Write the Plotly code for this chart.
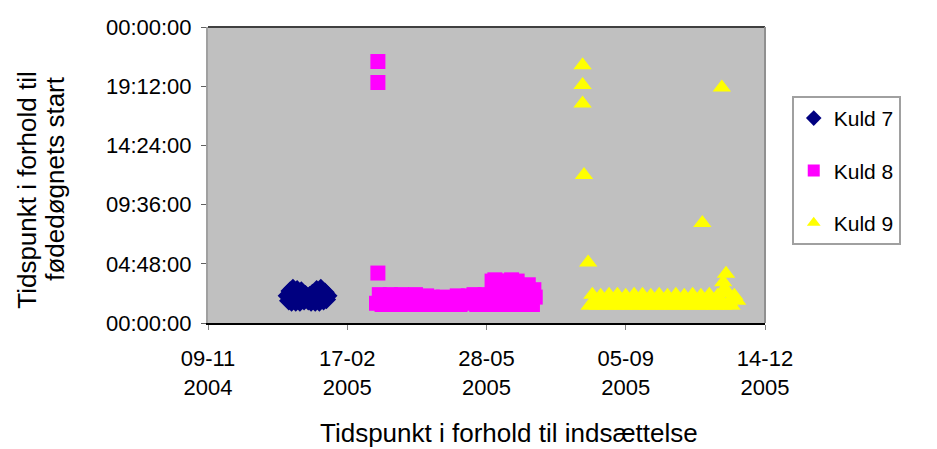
import plotly.graph_objects as go

# ---------------- data ----------------
x_tickvals = ["2004-11-09", "2005-02-17", "2005-05-28", "2005-09-05", "2005-12-14"]
x_ticktext = ["09-11<br>2004", "17-02<br>2005", "28-05<br>2005", "05-09<br>2005", "14-12<br>2005"]
y_tickvals = [0, 4.8, 9.6, 14.4, 19.2, 24]
y_ticktext = ["00:00:00", "04:48:00", "09:36:00", "14:24:00", "19:12:00", "00:00:00"]

# Kuld 7 (hours after start of the birth day)
dates7 = ["2005-01-05", "2005-01-06", "2005-01-07", "2005-01-08", "2005-01-09", "2005-01-10",
          "2005-01-11", "2005-01-12", "2005-01-13", "2005-01-14", "2005-01-15", "2005-01-16",
          "2005-01-17", "2005-01-18", "2005-01-19", "2005-01-20", "2005-01-21", "2005-01-22",
          "2005-01-23", "2005-01-24", "2005-01-25", "2005-01-26", "2005-01-27", "2005-01-28",
          "2005-01-29", "2005-01-30", "2005-01-31", "2005-02-01", "2005-02-02", "2005-02-03"]
hours7 = [2.2, 1.8, 2.6, 1.7, 2.8, 2.0, 1.7, 2.7, 2.3, 1.7, 2.6, 1.9,
          1.8, 2.3, 2.0, 1.8, 2.2, 1.7, 2.4, 2.0, 1.7, 2.7, 2.2, 1.7,
          2.8, 2.1, 1.8, 2.5, 1.9, 2.2]

# Kuld 8
dates8 = ["2005-03-11", "2005-03-11", "2005-03-11",
          "2005-03-10", "2005-03-12", "2005-03-14", "2005-03-16", "2005-03-18", "2005-03-20",
          "2005-03-22", "2005-03-24", "2005-03-26", "2005-03-28", "2005-03-30",
          "2005-04-01", "2005-04-03", "2005-04-05", "2005-04-07", "2005-04-09", "2005-04-11",
          "2005-04-13", "2005-04-15", "2005-04-17", "2005-04-19", "2005-04-21", "2005-04-23",
          "2005-04-25", "2005-04-27", "2005-04-29",
          "2005-05-01", "2005-05-03", "2005-05-05", "2005-05-07", "2005-05-09", "2005-05-11",
          "2005-05-13", "2005-05-15", "2005-05-17", "2005-05-19", "2005-05-21", "2005-05-23",
          "2005-05-25", "2005-05-27", "2005-05-29", "2005-05-31",
          "2005-06-02", "2005-06-04", "2005-06-06", "2005-06-08", "2005-06-10", "2005-06-12",
          "2005-06-14", "2005-06-16", "2005-06-18", "2005-06-20", "2005-06-22", "2005-06-24",
          "2005-06-26", "2005-06-28", "2005-06-30", "2005-07-02",
          "2005-06-01", "2005-06-03", "2005-06-05", "2005-06-07", "2005-06-13", "2005-06-15",
          "2005-06-17", "2005-06-19", "2005-06-25", "2005-06-27", "2005-07-01",
          "2005-06-02", "2005-06-06", "2005-06-10", "2005-06-14", "2005-06-18", "2005-06-22",
          "2005-06-26", "2005-06-30"]
hours8 = [21.2, 19.5, 4.05,
          1.6, 2.3, 1.5, 2.2, 1.7, 2.3, 1.5, 2.1, 1.6, 2.3, 1.8,
          1.5, 2.2, 1.6, 2.3, 1.5, 2.0, 1.7, 2.2, 1.5, 2.1, 1.6, 2.0,
          1.5, 2.1, 1.7,
          1.5, 2.0, 1.6, 2.2, 1.5, 2.1, 1.6, 2.2, 1.7, 2.3, 1.5, 2.2,
          1.6, 2.3, 1.5, 2.2,
          1.6, 2.3, 1.5, 2.2, 1.6, 2.3, 1.5, 2.2, 1.6, 2.3, 1.5, 2.2,
          1.6, 2.3, 1.5, 2.1,
          3.4, 3.5, 3.3, 3.4, 3.4, 3.5, 3.3, 3.4, 3.0, 3.1, 2.7,
          2.8, 2.9, 2.7, 2.8, 2.9, 2.6, 2.8, 2.6]

# Kuld 9
dates9 = ["2005-08-05", "2005-08-05", "2005-08-05", "2005-08-06", "2005-08-09",
          "2005-10-30", "2005-11-13", "2005-11-14", "2005-11-15", "2005-11-16",
          "2005-08-10", "2005-08-12", "2005-08-14", "2005-08-16", "2005-08-18", "2005-08-20",
          "2005-08-22", "2005-08-24", "2005-08-26", "2005-08-28", "2005-08-30",
          "2005-09-01", "2005-09-03", "2005-09-05", "2005-09-07", "2005-09-09", "2005-09-11",
          "2005-09-13", "2005-09-15", "2005-09-17", "2005-09-19", "2005-09-21", "2005-09-23",
          "2005-09-25", "2005-09-27", "2005-09-29",
          "2005-10-01", "2005-10-03", "2005-10-05", "2005-10-07", "2005-10-09", "2005-10-11",
          "2005-10-13", "2005-10-15", "2005-10-17", "2005-10-19", "2005-10-21", "2005-10-23",
          "2005-10-25", "2005-10-27", "2005-10-29", "2005-10-31",
          "2005-11-02", "2005-11-04", "2005-11-06", "2005-11-08", "2005-11-10", "2005-11-12",
          "2005-11-14", "2005-11-16", "2005-11-18", "2005-11-20", "2005-11-22", "2005-11-24"]
hours9 = [20.9, 19.3, 17.8, 12.0, 4.9,
          8.1, 19.1, 3.3, 2.8, 4.0,
          1.4, 2.3, 1.8, 1.4, 2.2, 1.8, 1.4, 2.3, 1.7, 1.4, 2.3,
          1.8, 1.4, 2.2, 1.8, 1.4, 2.3, 1.7, 1.4, 2.3, 1.8, 1.4, 2.2,
          1.8, 1.4, 2.3,
          1.7, 1.4, 2.2, 1.8, 1.4, 2.3, 1.7, 1.4, 2.2, 1.8, 1.4, 2.3,
          1.7, 1.4, 2.2, 1.8,
          1.4, 2.3, 1.7, 1.4, 2.2, 1.8, 1.4, 2.4, 1.7, 1.4, 2.2, 1.8]

series = [
    ("Kuld 7", dates7, hours7, "diamond", "#000080", 15),
    ("Kuld 8", dates8, hours8, "square", "#ff00ff", 15),
    ("Kuld 9", dates9, hours9, "triangle-up", "#ffff00", 16),
]

fig = go.Figure()
for name, xs, ys, sym, col, size in series:
    fig.add_trace(go.Scatter(
        x=xs, y=ys, mode="markers", name=name, legendgroup=name,
        marker=dict(symbol=sym, color=col, size=size, line=dict(width=0)),
    ))

font = "Liberation Sans, Arial, sans-serif"
# The page body adds an 8 px margin; the figure is sized and offset to compensate.
fig.update_layout(
    width=929, height=441,
    margin=dict(l=200, r=172, t=19, b=126, autoexpand=False),
    paper_bgcolor="white", plot_bgcolor="#c0c0c0",
    font=dict(family=font, color="black"),
    showlegend=True,
    legend=dict(
        x=1.048, y=0.767, xanchor="left", yanchor="top",
        bgcolor="white", bordercolor="#a0a0a0", borderwidth=2,
        font=dict(size=21, family=font, color="black"),
        itemsizing="constant", traceorder="grouped", tracegroupgap=22,
        entrywidth=200, entrywidthmode="pixels",
    ),
    xaxis=dict(
        type="date", range=["2004-11-09", "2005-12-14"],
        tickmode="array", tickvals=x_tickvals, ticktext=x_ticktext,
        ticks="outside", ticklen=5, tickcolor="#808080", tickwidth=1,
        showline=True, linecolor="black", linewidth=2,
        showgrid=False, zeroline=False,
        tickfont=dict(size=22, family=font, color="black"),
        ticklabelstandoff=10,
    ),
    yaxis=dict(
        range=[0, 24],
        tickmode="array", tickvals=y_tickvals, ticktext=y_ticktext,
        ticks="outside", ticklen=5, tickcolor="#606060", tickwidth=1,
        showline=True, linecolor="#a0a0a0", linewidth=2,
        showgrid=False, zeroline=False,
        tickfont=dict(size=22, family=font, color="black"),
        ticklabelstandoff=5,
    ),
    shapes=[
        dict(type="line", xref="paper", yref="paper", x0=0, x1=1, y0=1, y1=1,
             line=dict(color="#404040", width=2)),
        dict(type="line", xref="paper", yref="paper", x0=1, x1=1, y0=0, y1=1,
             line=dict(color="#909090", width=2)),
    ],
    annotations=[
        dict(text="Tidspunkt i forhold til indsættelse", xref="paper", yref="paper",
             x=0.54, y=-0.372, xanchor="center", yanchor="middle", showarrow=False,
             font=dict(size=26, family=font, color="black")),
        dict(text="Tidspunkt i forhold til", xref="paper", yref="paper",
             x=-0.325, y=0.45, xanchor="center", yanchor="middle", showarrow=False,
             textangle=-90, font=dict(size=26, family=font, color="black")),
        dict(text="fødedøgnets start", xref="paper", yref="paper",
             x=-0.275, y=0.49, xanchor="center", yanchor="middle", showarrow=False,
             textangle=-90, font=dict(size=26, family=font, color="black")),
    ],
)

fig.write_html("out.html")
